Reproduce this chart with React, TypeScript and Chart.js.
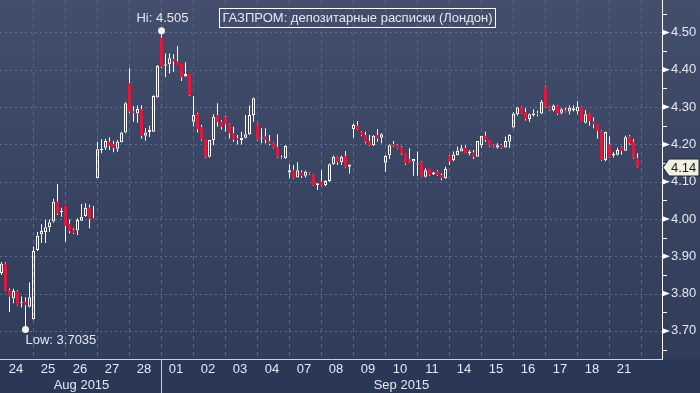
import React, { useEffect, useRef } from 'react';
import { Chart, registerables } from 'chart.js';

Chart.register(...registerables);

// ---------- data ----------
const dayLabels = ['24', '25', '26', '27', '28', '01', '02', '03', '04', '07', '08', '09', '10', '11', '14', '15', '16', '17', '18', '21'];
const monthLabels = ['Aug 2015', 'Sep 2015'];
const monthStartBar = [0, 40];
const monthEndBar = [40, 160];
const barsPerDay = 8;
const yTickValues = [3.7, 3.8, 3.9, 4.0, 4.1, 4.2, 4.3, 4.4, 4.5];
const yMinorValues = [3.65, 3.75, 3.85, 3.95, 4.05, 4.15, 4.25, 4.35, 4.45, 4.55];
const titleText = 'ГАЗПРОМ: депозитарные расписки (Лондон)';

const opens = [
  3.855, 3.881, 3.810, 3.787, 3.807, 3.774, 3.778, 3.765, 3.731, 3.917,
  3.959, 3.965, 3.978, 3.993, 4.046, 4.018, 4.036, 3.987, 3.971, 3.969,
  3.995, 4.008, 4.031, 4.003, 4.109, 4.185, 4.191, 4.207, 4.201, 4.188,
  4.206, 4.232, 4.364, 4.288, 4.283, 4.295, 4.223, 4.233, 4.234, 4.326,
  4.486, 4.411, 4.415, 4.429, 4.422, 4.417, 4.382, 4.389, 4.261, 4.282,
  4.247, 4.214, 4.167, 4.212, 4.279, 4.261, 4.274, 4.254, 4.230, 4.216,
  4.212, 4.218, 4.227, 4.279, 4.254, 4.216, 4.221, 4.209, 4.203, 4.193,
  4.164, 4.163, 4.125, 4.131, 4.111, 4.125, 4.116, 4.125, 4.120, 4.091,
  4.100, 4.091, 4.102, 4.147, 4.167, 4.152, 4.169, 4.140, 4.241, 4.250,
  4.234, 4.225, 4.209, 4.198, 4.225, 4.218, 4.151, 4.171, 4.201, 4.198,
  4.194, 4.174, 4.161, 4.154, 4.146, 4.152, 4.113, 4.136, 4.120, 4.129,
  4.118, 4.109, 4.169, 4.158, 4.171, 4.181, 4.191, 4.176, 4.178, 4.167,
  4.198, 4.223, 4.212, 4.198, 4.192, 4.198, 4.192, 4.207, 4.245, 4.281,
  4.301, 4.286, 4.268, 4.279, 4.283, 4.283, 4.355, 4.301, 4.292, 4.303,
  4.285, 4.292, 4.288, 4.292, 4.288, 4.301, 4.258, 4.283, 4.263, 4.254,
  4.236, 4.158, 4.200, 4.170, 4.172, 4.194, 4.183, 4.221, 4.207, 4.163,
];
const highs = [
  3.885, 3.884, 3.814, 3.813, 3.810, 3.792, 3.790, 3.830, 3.926, 3.965,
  3.986, 3.998, 3.999, 4.054, 4.094, 4.030, 4.036, 3.999, 3.975, 4.002,
  4.040, 4.042, 4.038, 4.035, 4.207, 4.214, 4.215, 4.219, 4.210, 4.212,
  4.234, 4.313, 4.404, 4.303, 4.304, 4.305, 4.243, 4.250, 4.332, 4.413,
  4.505, 4.444, 4.444, 4.442, 4.464, 4.417, 4.420, 4.389, 4.330, 4.285,
  4.252, 4.214, 4.212, 4.281, 4.310, 4.265, 4.276, 4.256, 4.247, 4.225,
  4.234, 4.279, 4.304, 4.326, 4.256, 4.243, 4.243, 4.225, 4.205, 4.227,
  4.170, 4.198, 4.147, 4.145, 4.152, 4.130, 4.130, 4.127, 4.121, 4.096,
  4.131, 4.104, 4.149, 4.170, 4.168, 4.170, 4.182, 4.147, 4.256, 4.263,
  4.236, 4.234, 4.225, 4.225, 4.241, 4.230, 4.171, 4.200, 4.209, 4.200,
  4.196, 4.175, 4.190, 4.161, 4.181, 4.154, 4.136, 4.136, 4.127, 4.131,
  4.122, 4.140, 4.170, 4.181, 4.194, 4.198, 4.198, 4.185, 4.185, 4.209,
  4.223, 4.234, 4.212, 4.200, 4.203, 4.200, 4.221, 4.227, 4.286, 4.301,
  4.302, 4.297, 4.283, 4.294, 4.290, 4.319, 4.357, 4.302, 4.307, 4.304,
  4.297, 4.298, 4.304, 4.304, 4.316, 4.302, 4.292, 4.284, 4.272, 4.255,
  4.237, 4.234, 4.221, 4.179, 4.191, 4.195, 4.223, 4.225, 4.214, 4.176,
];
const lows = [
  3.850, 3.806, 3.751, 3.774, 3.768, 3.763, 3.7035, 3.763, 3.730, 3.914,
  3.936, 3.936, 3.966, 3.990, 4.011, 4.006, 3.939, 3.962, 3.960, 3.957,
  3.995, 4.006, 3.975, 4.000, 4.109, 4.176, 4.185, 4.185, 4.179, 4.180,
  4.205, 4.230, 4.285, 4.261, 4.258, 4.215, 4.210, 4.220, 4.233, 4.325,
  4.405, 4.381, 4.390, 4.394, 4.413, 4.370, 4.381, 4.330, 4.248, 4.232,
  4.210, 4.164, 4.165, 4.198, 4.247, 4.240, 4.234, 4.216, 4.207, 4.200,
  4.200, 4.216, 4.225, 4.261, 4.210, 4.203, 4.203, 4.198, 4.189, 4.164,
  4.161, 4.161, 4.109, 4.108, 4.111, 4.110, 4.111, 4.118, 4.090, 4.078,
  4.088, 4.088, 4.100, 4.145, 4.145, 4.145, 4.138, 4.122, 4.218, 4.240,
  4.222, 4.203, 4.196, 4.196, 4.207, 4.203, 4.127, 4.161, 4.194, 4.188,
  4.172, 4.145, 4.152, 4.116, 4.116, 4.112, 4.111, 4.116, 4.118, 4.116,
  4.104, 4.107, 4.145, 4.155, 4.170, 4.181, 4.174, 4.171, 4.161, 4.167,
  4.191, 4.207, 4.194, 4.192, 4.188, 4.189, 4.191, 4.191, 4.243, 4.277,
  4.282, 4.264, 4.261, 4.275, 4.275, 4.281, 4.299, 4.290, 4.288, 4.279,
  4.281, 4.286, 4.281, 4.288, 4.281, 4.260, 4.256, 4.250, 4.243, 4.215,
  4.156, 4.155, 4.165, 4.165, 4.170, 4.172, 4.182, 4.199, 4.161, 4.138,
];
const closes = [
  3.880, 3.808, 3.792, 3.807, 3.770, 3.776, 3.770, 3.790, 3.914, 3.955,
  3.968, 3.978, 3.991, 4.046, 4.015, 4.022, 3.982, 3.968, 3.963, 3.997,
  4.006, 4.030, 4.001, 4.001, 4.187, 4.188, 4.209, 4.197, 4.191, 4.207,
  4.232, 4.310, 4.288, 4.285, 4.295, 4.223, 4.232, 4.239, 4.330, 4.411,
  4.408, 4.415, 4.431, 4.423, 4.413, 4.381, 4.389, 4.332, 4.279, 4.241,
  4.213, 4.167, 4.212, 4.274, 4.261, 4.247, 4.254, 4.230, 4.212, 4.211,
  4.218, 4.227, 4.279, 4.324, 4.212, 4.218, 4.212, 4.202, 4.191, 4.167,
  4.163, 4.196, 4.131, 4.109, 4.131, 4.116, 4.127, 4.120, 4.091, 4.096,
  4.090, 4.102, 4.147, 4.167, 4.152, 4.167, 4.140, 4.146, 4.252, 4.241,
  4.225, 4.207, 4.198, 4.223, 4.216, 4.227, 4.169, 4.198, 4.196, 4.190,
  4.174, 4.149, 4.154, 4.161, 4.149, 4.113, 4.131, 4.118, 4.125, 4.118,
  4.109, 4.134, 4.155, 4.173, 4.183, 4.190, 4.174, 4.181, 4.167, 4.209,
  4.223, 4.212, 4.196, 4.194, 4.198, 4.191, 4.209, 4.225, 4.283, 4.299,
  4.283, 4.268, 4.281, 4.283, 4.281, 4.314, 4.301, 4.292, 4.304, 4.283,
  4.294, 4.288, 4.298, 4.297, 4.301, 4.261, 4.281, 4.263, 4.254, 4.236,
  4.158, 4.233, 4.167, 4.174, 4.185, 4.183, 4.219, 4.203, 4.163, 4.140,
];

// ---------- layout / style ----------
const W = 700;
const H = 393;
const Y_MIN = 3.6247;
const Y_MAX = 4.5871;
const Y_AXIS_W = 38;
const X_AXIS_H = 34;
const PX_PER_BAR = 4;
const X_MIN = -1.5 / PX_PER_BAR;
const X_MAX = X_MIN + (W - Y_AXIS_W) / PX_PER_BAR;
const FONT = "'Liberation Sans', Arial, sans-serif";
const TEXT = '#e6e8ef';
const RED = '#dc1a40';
const WHITE = '#ffffff';
const DOT = '#f4f1ea';

const idx = opens.map((_, i) => i);
const isUp = idx.map((i) => closes[i] >= opens[i]);
const bodyData = idx.map((i) => ({ x: i, y: [opens[i], closes[i]] }));
const upperWick = idx.map((i) => ({ x: i, y: [Math.max(opens[i], closes[i]), highs[i]] }));
const lowerWick = idx.map((i) => ({ x: i, y: [lows[i], Math.min(opens[i], closes[i])] }));
const hiIndex = highs.indexOf(Math.max(...highs));
const loIndex = lows.indexOf(Math.min(...lows));
const extremes = [
  { x: hiIndex, y: highs[hiIndex] },
  { x: loIndex, y: lows[loIndex] },
];

const decorPlugin = {
  id: 'decor',
  beforeDraw(chart: any) {
    const { ctx, chartArea: a, width, height } = chart;
    ctx.save();
    const g = ctx.createLinearGradient(0, 0, 0, a.bottom);
    g.addColorStop(0, '#424e6b');
    g.addColorStop(1, '#2f3c5a');
    ctx.fillStyle = g;
    ctx.fillRect(0, 0, width, a.bottom);
    ctx.fillStyle = '#2a3756';
    ctx.fillRect(0, a.bottom, width, height - a.bottom);
    ctx.restore();
  },
  beforeDatasetsDraw(chart: any) {
    const { ctx, chartArea: a, scales } = chart;
    const x = scales.x;
    const y = scales.y;
    ctx.save();
    ctx.lineWidth = 1;
    ctx.strokeStyle = '#5a7092';
    ctx.setLineDash([2, 3]);
    for (const v of yTickValues) {
      const py = Math.round(y.getPixelForValue(v)) + 0.5;
      ctx.beginPath();
      ctx.moveTo(a.left, py);
      ctx.lineTo(a.right, py);
      ctx.stroke();
    }
    ctx.strokeStyle = '#4f6b8e';
    ctx.setLineDash([4, 4]);
    for (let k = 1; k <= dayLabels.length; k++) {
      const px = Math.floor(x.getPixelForValue(k * barsPerDay)) + 0.5;
      ctx.beginPath();
      ctx.moveTo(px, a.top);
      ctx.lineTo(px, a.bottom);
      ctx.stroke();
    }
    ctx.restore();
  },
  afterDraw(chart: any) {
    const { ctx, chartArea: a, scales, height } = chart;
    const x = scales.x;
    const y = scales.y;
    ctx.save();
    // y-axis markers
    ctx.fillStyle = WHITE;
    ctx.strokeStyle = WHITE;
    ctx.lineWidth = 1;
    for (const v of yTickValues) {
      const py = y.getPixelForValue(v);
      ctx.beginPath();
      ctx.moveTo(a.right, py - 3);
      ctx.lineTo(a.right + 8, py);
      ctx.lineTo(a.right, py + 3);
      ctx.closePath();
      ctx.fill();
    }
    for (const v of yMinorValues) {
      const py = Math.round(y.getPixelForValue(v)) + 0.5;
      if (py < a.top || py > a.bottom) continue;
      ctx.beginPath();
      ctx.moveTo(a.right, py);
      ctx.lineTo(a.right + 5, py);
      ctx.stroke();
    }
    // month separators and labels
    ctx.strokeStyle = '#c9cdd8';
    ctx.font = `13px ${FONT}`;
    ctx.fillStyle = TEXT;
    ctx.textAlign = 'center';
    ctx.textBaseline = 'alphabetic';
    for (let m = 0; m < monthLabels.length; m++) {
      const x0 = x.getPixelForValue(monthStartBar[m]);
      const x1 = x.getPixelForValue(monthEndBar[m]);
      if (m > 0) {
        const px = Math.floor(x0) + 0.5;
        ctx.beginPath();
        ctx.moveTo(px, a.bottom);
        ctx.lineTo(px, height);
        ctx.stroke();
      }
      ctx.fillText(monthLabels[m], (Math.max(x0, a.left) + Math.min(x1, a.right)) / 2, 389);
    }
    // title box
    ctx.font = `13px ${FONT}`;
    const tw = ctx.measureText(titleText).width;
    const cx = 357.5;
    ctx.strokeStyle = WHITE;
    ctx.strokeRect(Math.round(cx - tw / 2 - 3) + 0.5, 8.5, Math.round(tw + 6), 19);
    ctx.fillStyle = TEXT;
    ctx.textBaseline = 'middle';
    ctx.fillText(titleText, cx, 18.5);
    // hi / low labels
    const hx = x.getPixelForValue(hiIndex);
    const hy = y.getPixelForValue(highs[hiIndex]);
    ctx.textAlign = 'center';
    ctx.fillText(`Hi: ${highs[hiIndex].toFixed(3)}`, hx + 1, hy - 12.5);
    const lx = x.getPixelForValue(loIndex);
    const ly = y.getPixelForValue(lows[loIndex]);
    ctx.textAlign = 'left';
    ctx.fillText(`Low: ${lows[loIndex].toFixed(4)}`, lx, ly + 11);
    // last price tag
    const last = closes[closes.length - 1];
    const py = Math.round(y.getPixelForValue(last)) + 0.5;
    ctx.beginPath();
    ctx.moveTo(a.right + 1, py);
    ctx.lineTo(a.right + 7, py - 8.5);
    ctx.lineTo(W - 1, py - 8.5);
    ctx.lineTo(W - 1, py + 8.5);
    ctx.lineTo(a.right + 7, py + 8.5);
    ctx.closePath();
    ctx.fillStyle = '#f4f0e2';
    ctx.fill();
    ctx.strokeStyle = '#1d2436';
    ctx.stroke();
    ctx.fillStyle = '#151a2a';
    ctx.textAlign = 'left';
    ctx.textBaseline = 'middle';
    ctx.font = `13px ${FONT}`;
    ctx.fillText(last.toFixed(2), a.right + 9, py + 0.5);
    ctx.restore();
  },
};

export default function App() {
  const canvasRef = useRef<HTMLCanvasElement | null>(null);

  useEffect(() => {
    const canvas = canvasRef.current;
    if (!canvas) return;
    const chart = new Chart(canvas, {
      type: 'bar',
      data: {
        datasets: [
          {
            type: 'line',
            label: 'extremes',
            data: extremes,
            showLine: false,
            pointRadius: 3.5,
            pointHoverRadius: 3.5,
            pointBackgroundColor: DOT,
            pointBorderWidth: 0,
            clip: false,
          } as any,
          {
            type: 'bar',
            label: 'bodies',
            data: bodyData as any,
            backgroundColor: idx.map((i) => (isUp[i] ? 'rgba(0,0,0,0)' : RED)),
            borderColor: idx.map((i) => (isUp[i] ? WHITE : RED)),
            borderWidth: 1,
            borderSkipped: false,
            barThickness: 3,
            minBarLength: 1,
            grouped: false,
            inflateAmount: 0,
          } as any,
          {
            type: 'bar',
            label: 'upper wicks',
            data: upperWick as any,
            backgroundColor: WHITE,
            borderWidth: 0,
            barThickness: 1,
            grouped: false,
            inflateAmount: 0,
          } as any,
          {
            type: 'bar',
            label: 'lower wicks',
            data: lowerWick as any,
            backgroundColor: WHITE,
            borderWidth: 0,
            barThickness: 1,
            grouped: false,
            inflateAmount: 0,
          } as any,
        ],
      },
      options: {
        responsive: false,
        animation: false,
        devicePixelRatio: 1,
        events: [],
        layout: { padding: 0, autoPadding: false },
        plugins: {
          legend: { display: false },
          tooltip: { enabled: false },
          title: { display: false },
        },
        scales: {
          x: {
            type: 'linear',
            position: 'bottom',
            min: X_MIN,
            max: X_MAX,
            offset: false,
            bounds: 'data',
            grid: { display: false, drawTicks: false, offset: false },
            border: { display: true, color: '#cdd1db', width: 1 },
            afterBuildTicks: (s: any) => {
              s.ticks = dayLabels.map((_, k) => ({ value: k * barsPerDay + 3.6 }));
            },
            afterFit: (s: any) => {
              s.height = X_AXIS_H;
              s.paddingLeft = 0;
              s.paddingRight = 0;
            },
            ticks: {
              autoSkip: false,
              maxRotation: 0,
              minRotation: 0,
              padding: 3,
              color: TEXT,
              font: { family: FONT, size: 13 },
              callback: (_v: any, i: number) => dayLabels[i] ?? '',
            },
          },
          y: {
            type: 'linear',
            position: 'right',
            min: Y_MIN,
            max: Y_MAX,
            offset: false,
            bounds: 'data',
            grid: { display: false, drawTicks: false },
            border: { display: true, color: WHITE, width: 1 },
            afterBuildTicks: (s: any) => {
              s.ticks = yTickValues.map((v) => ({ value: v }));
            },
            afterFit: (s: any) => {
              s.width = Y_AXIS_W;
              s.paddingTop = 0;
              s.paddingBottom = 0;
            },
            ticks: {
              padding: 9,
              color: TEXT,
              font: { family: FONT, size: 13 },
              callback: (v: any) => Number(v).toFixed(2),
            },
          },
        },
      } as any,
      plugins: [decorPlugin],
    });
    return () => chart.destroy();
  }, []);

  return (
    <div style={{ position: 'absolute', left: 0, top: 0, width: W, height: H }}>
      <canvas ref={canvasRef} width={W} height={H} style={{ display: 'block', width: W, height: H }} />
    </div>
  );
}
